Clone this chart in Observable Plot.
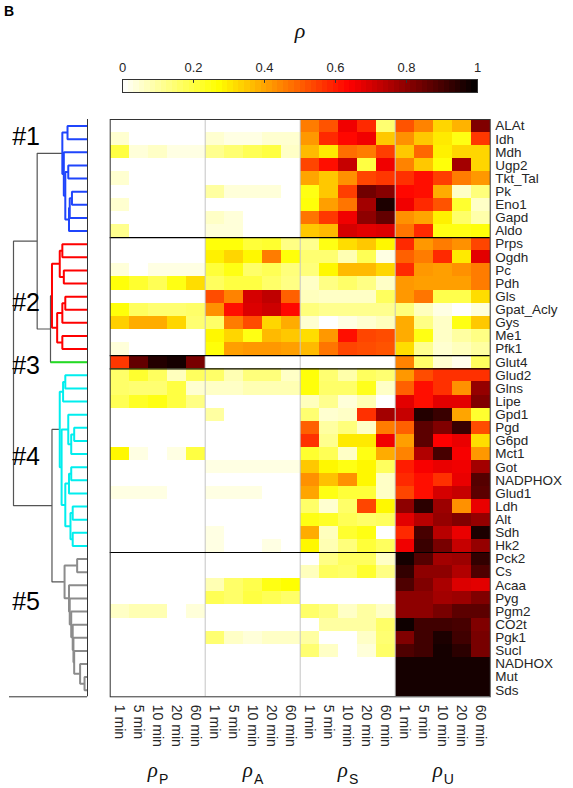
<!DOCTYPE html>
<html><head><meta charset="utf-8">
<script src="https://cdn.jsdelivr.net/npm/d3@7"></script>
<script src="https://cdn.jsdelivr.net/npm/@observablehq/plot@0.6"></script>
<style>
html,body{margin:0;padding:0;background:#fff;}
#chart{position:relative;width:573px;height:788px;background:#fff;font-family:"Liberation Sans",Arial,sans-serif;overflow:hidden}
#chart svg{position:absolute;left:0;top:0;background:transparent;max-width:none}
#panel{position:absolute;left:4px;top:4px;font-weight:bold;font-size:14px;line-height:14px;color:#000}
</style></head><body>
<div id="chart"><div id="panel">B</div></div>
<script>
const rows = ["ALAt","Idh","Mdh","Ugp2","Tkt_Tal","Pk","Eno1","Gapd","Aldo","Prps","Ogdh","Pc","Pdh","Gls","Gpat_Acly","Gys","Me1","Pfk1","Glut4","Glud2","Glns","Lipe","Gpd1","Pgd","G6pd","Mct1","Got","NADPHOX","Glud1","Ldh","Alt","Sdh","Hk2","Pck2","Cs","Acaa","Pyg","Pgm2","CO2t","Pgk1","Sucl","NADHOX","Mut","Sds"];
const times = ["1 min","5 min","10 min","20 min","60 min"];
const groups = ["P","A","S","U"];
const clusterBreaks = [9, 18, 19, 33];

const rhoP = [
[0,0,0,0,0],[.05,0,0,0,0],[.2,.04,.06,.03,.03],[0,0,0,0,0],[.05,0,0,0,0],[0,0,0,0,0],[.05,0,0,0,0],[0,0,0,0,0],[.12,0,0,0,0],
[0,0,0,0,0],[0,0,0,0,0],[.04,0,.03,.03,.03],[.26,.22,.18,.25,.32],[0,0,0,0,0],[.26,.17,.15,.15,.16],[.34,.39,.39,.33,.15],[0,0,0,0,0],[.04,0,0,0,0],
[.56,.86,.95,.97,.83],
[.16,.22,.17,.07,.17],[.16,.15,.15,.2,.05],[.18,.23,.25,.2,.13],[0,0,0,0,0],[0,0,0,0,0],[0,0,0,0,0],[.28,.03,0,.03,.2],[0,0,0,0,0],[0,0,0,0,0],[.03,.03,.03,0,0],[0,0,0,0,0],[0,0,0,0,0],[0,0,0,0,0],[0,0,0,0,0],
[0,0,0,0,0],[0,0,0,0,0],[0,0,0,0,0],[0,0,0,0,0],[.06,.08,.08,0,.04],[0,0,0,0,0],[0,0,0,0,0],[0,0,0,0,0],[0,0,0,0,0],[0,0,0,0,0],[0,0,0,0,0]];
const rhoA = [
[0,0,0,0,0],[.05,.03,.03,.05,.05],[.12,.15,.18,.2,.06],[0,0,0,0,0],[0,0,0,0,0],[.1,.04,.04,.04,0],[0,0,0,0,0],[.06,.04,0,0,0],[.04,.04,0,0,0],
[.26,.26,.21,.22,.13],[.29,.33,.28,.46,.26],[.21,.25,.16,.18,.14],[.17,.2,.2,.16,.13],[.53,.45,.7,.73,.5],[.43,.62,.69,.71,.63],[.16,.46,.53,.33,.39],[.28,.33,.25,.37,.35],[.26,.41,.42,.42,.41],
[0,0,0,0,0],
[.16,.08,.14,.14,.06],[.06,.06,.08,.08,.08],[0,0,0,0,0],[.1,0,0,0,0],[0,0,0,0,0],[0,0,0,0,0],[0,0,0,0,0],[.03,.03,.03,.03,.03],[0,0,0,0,0],[.03,.03,.03,0,0],[0,0,0,0,0],[0,0,0,0,0],[.03,0,0,0,0],[.03,0,0,.03,0],
[0,0,0,0,0],[0,0,0,0,0],[.08,.16,.19,.25,.27],[.18,.16,.2,.18,.16],[0,0,0,0,0],[0,0,0,0,0],[.15,.06,.04,.06,.06],[0,0,0,0,0],[0,0,0,0,0],[0,0,0,0,0],[0,0,0,0,0]];
const rhoS = [
[.46,.52,.66,.58,.15],[.42,.58,.63,.66,.35],[.37,.3,.48,.46,.55],[.54,.62,.72,.2,.66],[.4,.35,.43,.54,.56],[.25,.35,.55,.84,.81],[.26,.41,.47,.77,.96],[.47,.56,.66,.8,.86],[.35,.37,.7,.68,.69],
[.12,.25,.32,.35,.28],[.15,.15,.08,.18,.03],[.14,.28,.37,.37,.33],[.06,.13,.16,.13,.06],[.07,.06,.06,.06,.17],[.14,.12,.12,.12,.12],[.05,0,.03,.05,.07],[.32,.42,.62,.54,.53],[.37,.47,.54,.53,.52],
[0,0,0,0,0],
[.26,.15,.09,.17,.15],[.26,.16,.16,.24,.06],[.07,.12,.04,.08,0],[.15,.05,.06,.57,.77],[.5,.1,.14,.06,.46],[.57,.12,.3,.3,.66],[.22,.18,.06,.25,.39],[.35,.28,.25,.28,.17],[.43,.36,.43,.28,.06],[.4,.25,.21,.21,.06],[.16,.05,.16,.54,.28],[.25,.23,.18,.16,.17],[.39,.07,.22,.25,0],[.28,.08,.14,.21,.17],
[0,.13,.17,.17,.06],[.07,.17,.16,.22,.13],[0,0,0,0,0],[0,0,0,0,0],[.16,.13,.06,.1,.06],[0,.1,.1,.1,.16],[.1,0,0,.06,.15],[.15,.06,0,.04,.16],[0,0,0,0,0],[0,0,0,0,0],[0,0,0,0,0]];
const rhoU = [
[.52,.45,.33,.38,.82],[.43,.35,.3,.25,.56],[.35,.49,.29,.33,.33],[.45,.35,.26,.77,.33],[.57,.62,.55,.46,.42],[.63,.62,.39,.06,.14],[.66,.58,.52,.22,.06],[.43,.4,.29,.16,.09],[.47,.58,.25,.25,.26],
[.58,.42,.46,.43,.54],[.5,.46,.58,.3,.68],[.58,.42,.41,.43,.46],[.42,.41,.41,.41,.46],[.42,.47,.19,.19,.32],[.14,.07,.03,0,.04],[.39,.13,.06,.25,.35],[.39,.25,.06,.1,.13],[.32,.12,.05,.07,.1],
[.45,.16,.05,.02,.17],
[.42,.53,.57,.57,.57],[.5,.62,.57,.43,.79],[.68,.62,.68,.68,.82],[.72,.95,.92,.4,.22],[.5,.87,.82,.92,.53],[.41,.87,.64,.67,.32],[.45,.75,.9,.65,.42],[.6,.65,.67,.66,.77],[.58,.62,.57,.67,.88],[.54,.62,.7,.72,.87],[.8,.94,.78,.43,.67],[.68,.74,.79,.82,.79],[.58,.9,.74,.67,.96],[.66,.92,.83,.72,.79],
[.97,.88,.77,.78,.93],[.93,.8,.8,.75,.89],[.89,.82,.76,.69,.68],[.8,.8,.77,.78,.82],[.8,.8,.83,.87,.87],[.98,.91,.91,.9,.82],[.82,.91,.96,.91,.83],[.89,.91,.97,.94,.83],[.97,.97,.97,.97,.97],[.97,.97,.97,.97,.97],[.97,.97,.97,.97,.97]];

const colorTicks = [0, 0.2, 0.4, 0.6, 0.8, 1];
const colorStops = [0, 0.27, 0.64, 1];
const colorRange = ["#ffffff", "#ffff00", "#ff0000", "#000000"];

// dendrogram: [left, right, mergeHeight]
const c1 = [["ALAt","Idh",0.27],["Mdh",[["Ugp2","Tkt_Tal",0.26],[[["Pk","Eno1",0.21],"Gapd",0.24],"Aldo",0.25],0.30],0.32],0.34];
const c2 = [[["Prps","Ogdh",0.34],["Pc","Pdh",0.32],0.375],[[["Gls","Gpat_Acly",0.30],"Gys",0.34],["Me1","Pfk1",0.34],0.41],0.48];
const c3 = "Glut4";
const c4 = [[["Glud2","Glns",0.30],"Lipe",0.33],[["Gpd1",[["Pgd","G6pd",0.18],"Mct1",0.22],0.26],[[["Got","NADPHOX",0.22],"Glud1",0.25],[["Ldh","Alt",0.20],["Sdh","Hk2",0.20],0.23],0.30],0.35],0.375];
const c5 = [["Pck2","Cs",0.14],["Acaa",["Pyg",["Pgm2",["CO2t",["Pgk1",["Sucl",["NADHOX",["Mut","Sds",0.04],0.10],0.18],0.19],0.20],0.22],0.24],0.25],0.31];
const tree = [[c1,[c2,c3,0.50],0.68],[c4,c5,0.48],1.0];
const clusterColors = new Map([[c1,"#1f45fc"],[c2,"#ff0000"],[c3,"#22dd22"],[c4,"#00eeee"],[c5,"#8c8c8c"]]);
const linkGrey = "#555555";
const clusterLabels = ["#1","#2","#3","#4","#5"];
const clusterLabelRows = [1.37, 13.95, 18.75, 25.76, 36.81];

const font = "Liberation Sans, Arial, sans-serif";
const colorScale = {type: "linear", domain: colorStops, range: colorRange, interpolate: "rgb"};

// cells
const cells = [];
[rhoP, rhoA, rhoS, rhoU].forEach((m, g) => m.forEach((vals, r) => vals.forEach((v, t) => cells.push({row: r, col: g * 5 + t, v}))));
const colTicks = d3.range(20).map(i => i + 0.5);
const rowTicks = rows.map((_, i) => i + 0.5);

const chart = document.getElementById("chart");

const heat = Plot.plot({
  width: 573, height: 788,
  marginLeft: 109.7, marginRight: 83.3, marginTop: 119, marginBottom: 91.7,
  x: {domain: [0, 20], axis: null},
  y: {domain: [0, 44], reverse: true, axis: null},
  color: colorScale,
  style: {background: "transparent", fontFamily: font, color: "#262626"},
  marks: [
    Plot.rect(cells, {x1: "col", x2: d => d.col + 1, y1: "row", y2: d => d.row + 1, fill: "v", shapeRendering: "crispEdges"}),
    Plot.ruleX([5, 10, 15], {stroke: "#c4c4c4", strokeWidth: 1}),
    Plot.ruleY(clusterBreaks, {stroke: "#000", strokeWidth: 1.2}),
    Plot.frame({stroke: "#333"}),
    Plot.axisX(colTicks, {anchor: "bottom", tickSize: 0, tickPadding: 8, tickRotate: 90, tickFormat: d => times[Math.floor(d) % 5], fontSize: 14, label: null}),
    Plot.axisY(rowTicks, {anchor: "right", tickSize: 0, tickPadding: 5, tickFormat: d => rows[Math.floor(d)], fontSize: 13.5, label: null}),
    Plot.text(groups, {x: (d, i) => i * 5 + 2.5, frameAnchor: "bottom", lineAnchor: "bottom", dx: -5, dy: 80.5, text: () => "ρ", fontSize: 21, fontStyle: "italic", fontFamily: "Liberation Serif, serif", fill: "#111"}),
    Plot.text(groups, {x: (d, i) => i * 5 + 2.5, frameAnchor: "bottom", lineAnchor: "bottom", dx: 6, dy: 87.5, text: d => d, fontSize: 14, fill: "#111"})
  ]
});
chart.appendChild(heat);

const bar = Plot.plot({
  width: 573, height: 100,
  marginLeft: 122, marginRight: 96, marginTop: 79, marginBottom: 8,
  x: {domain: [0, 1]},
  y: {domain: [0, 1], axis: null},
  color: colorScale,
  style: {background: "transparent", fontFamily: font, color: "#262626"},
  marks: [
    Plot.rect(d3.range(64), {x1: i => i / 64, x2: i => (i + 1) / 64, y1: 0, y2: 1, fill: i => (i + 0.5) / 64, shapeRendering: "crispEdges"}),
    Plot.ruleX(colorTicks.slice(1, -1), {y1: 1, y2: 0.7, stroke: "#333"}),
    Plot.frame({stroke: "#333"}),
    Plot.axisX(colorTicks, {anchor: "top", tickSize: 0, tickPadding: 8, tickFormat: d => String(d), fontSize: 13, label: null}),
    Plot.text(["ρ"], {frameAnchor: "top", lineAnchor: "bottom", dy: -42, text: d => d, fontSize: 22, fontStyle: "italic", fontFamily: "Liberation Serif, serif", fill: "#111"})
  ]
});
chart.appendChild(bar);

// dendrogram layout
const rowIndex = new Map(rows.map((r, i) => [r, i]));
const links = [];
let nid = 0;
function walk(node, inherited) {
  const col = clusterColors.get(node) ?? inherited;
  if (typeof node === "string") return {y: rowIndex.get(node) + 0.5, h: 0, col};
  const [a, b, h] = node;
  const A = walk(a, col), B = walk(b, col);
  const id = nid++;
  const stroke = col ?? linkGrey;
  links.push({id, stroke, x: A.h, y: A.y}, {id, stroke, x: h, y: A.y}, {id, stroke, x: h, y: B.y}, {id, stroke, x: B.h, y: B.y});
  for (const [child, C] of [[a, A], [b, B]]) {
    if (typeof child === "string" && C.col && C.col !== stroke) {
      const lid = nid++;
      links.push({id: lid, stroke: C.col, x: 0, y: C.y}, {id: lid, stroke: C.col, x: h, y: C.y});
    }
  }
  return {y: (A.y + B.y) / 2, h, col};
}
walk(tree, undefined);

const dendro = Plot.plot({
  width: 110, height: 788,
  marginLeft: 9, marginRight: 23, marginTop: 119, marginBottom: 91.7,
  x: {domain: [1.054, 0], axis: null},
  y: {domain: [0, 44], reverse: true, axis: null},
  color: {type: "identity"},
  style: {background: "transparent", fontFamily: font},
  marks: [
    Plot.line(links.filter(d => d.stroke === linkGrey), {x: "x", y: "y", z: "id", stroke: "stroke", strokeWidth: 1.2, strokeLinecap: "butt", strokeLinejoin: "miter"}),
    Plot.line(links.filter(d => d.stroke !== linkGrey), {x: "x", y: "y", z: "id", stroke: "stroke", strokeWidth: 2, strokeLinecap: "butt", strokeLinejoin: "miter"}),
    Plot.ruleX([0], {y1: 0, y2: 44, stroke: "#333"}),
    Plot.ruleY([44], {x1: 1.054, x2: 0, stroke: "#333"}),
    Plot.text(clusterLabels, {x: () => 0.83, y: (d, i) => clusterLabelRows[i], text: d => d, fontSize: 25, fill: "#000"})
  ]
});
chart.appendChild(dendro);
</script>
</body></html>
